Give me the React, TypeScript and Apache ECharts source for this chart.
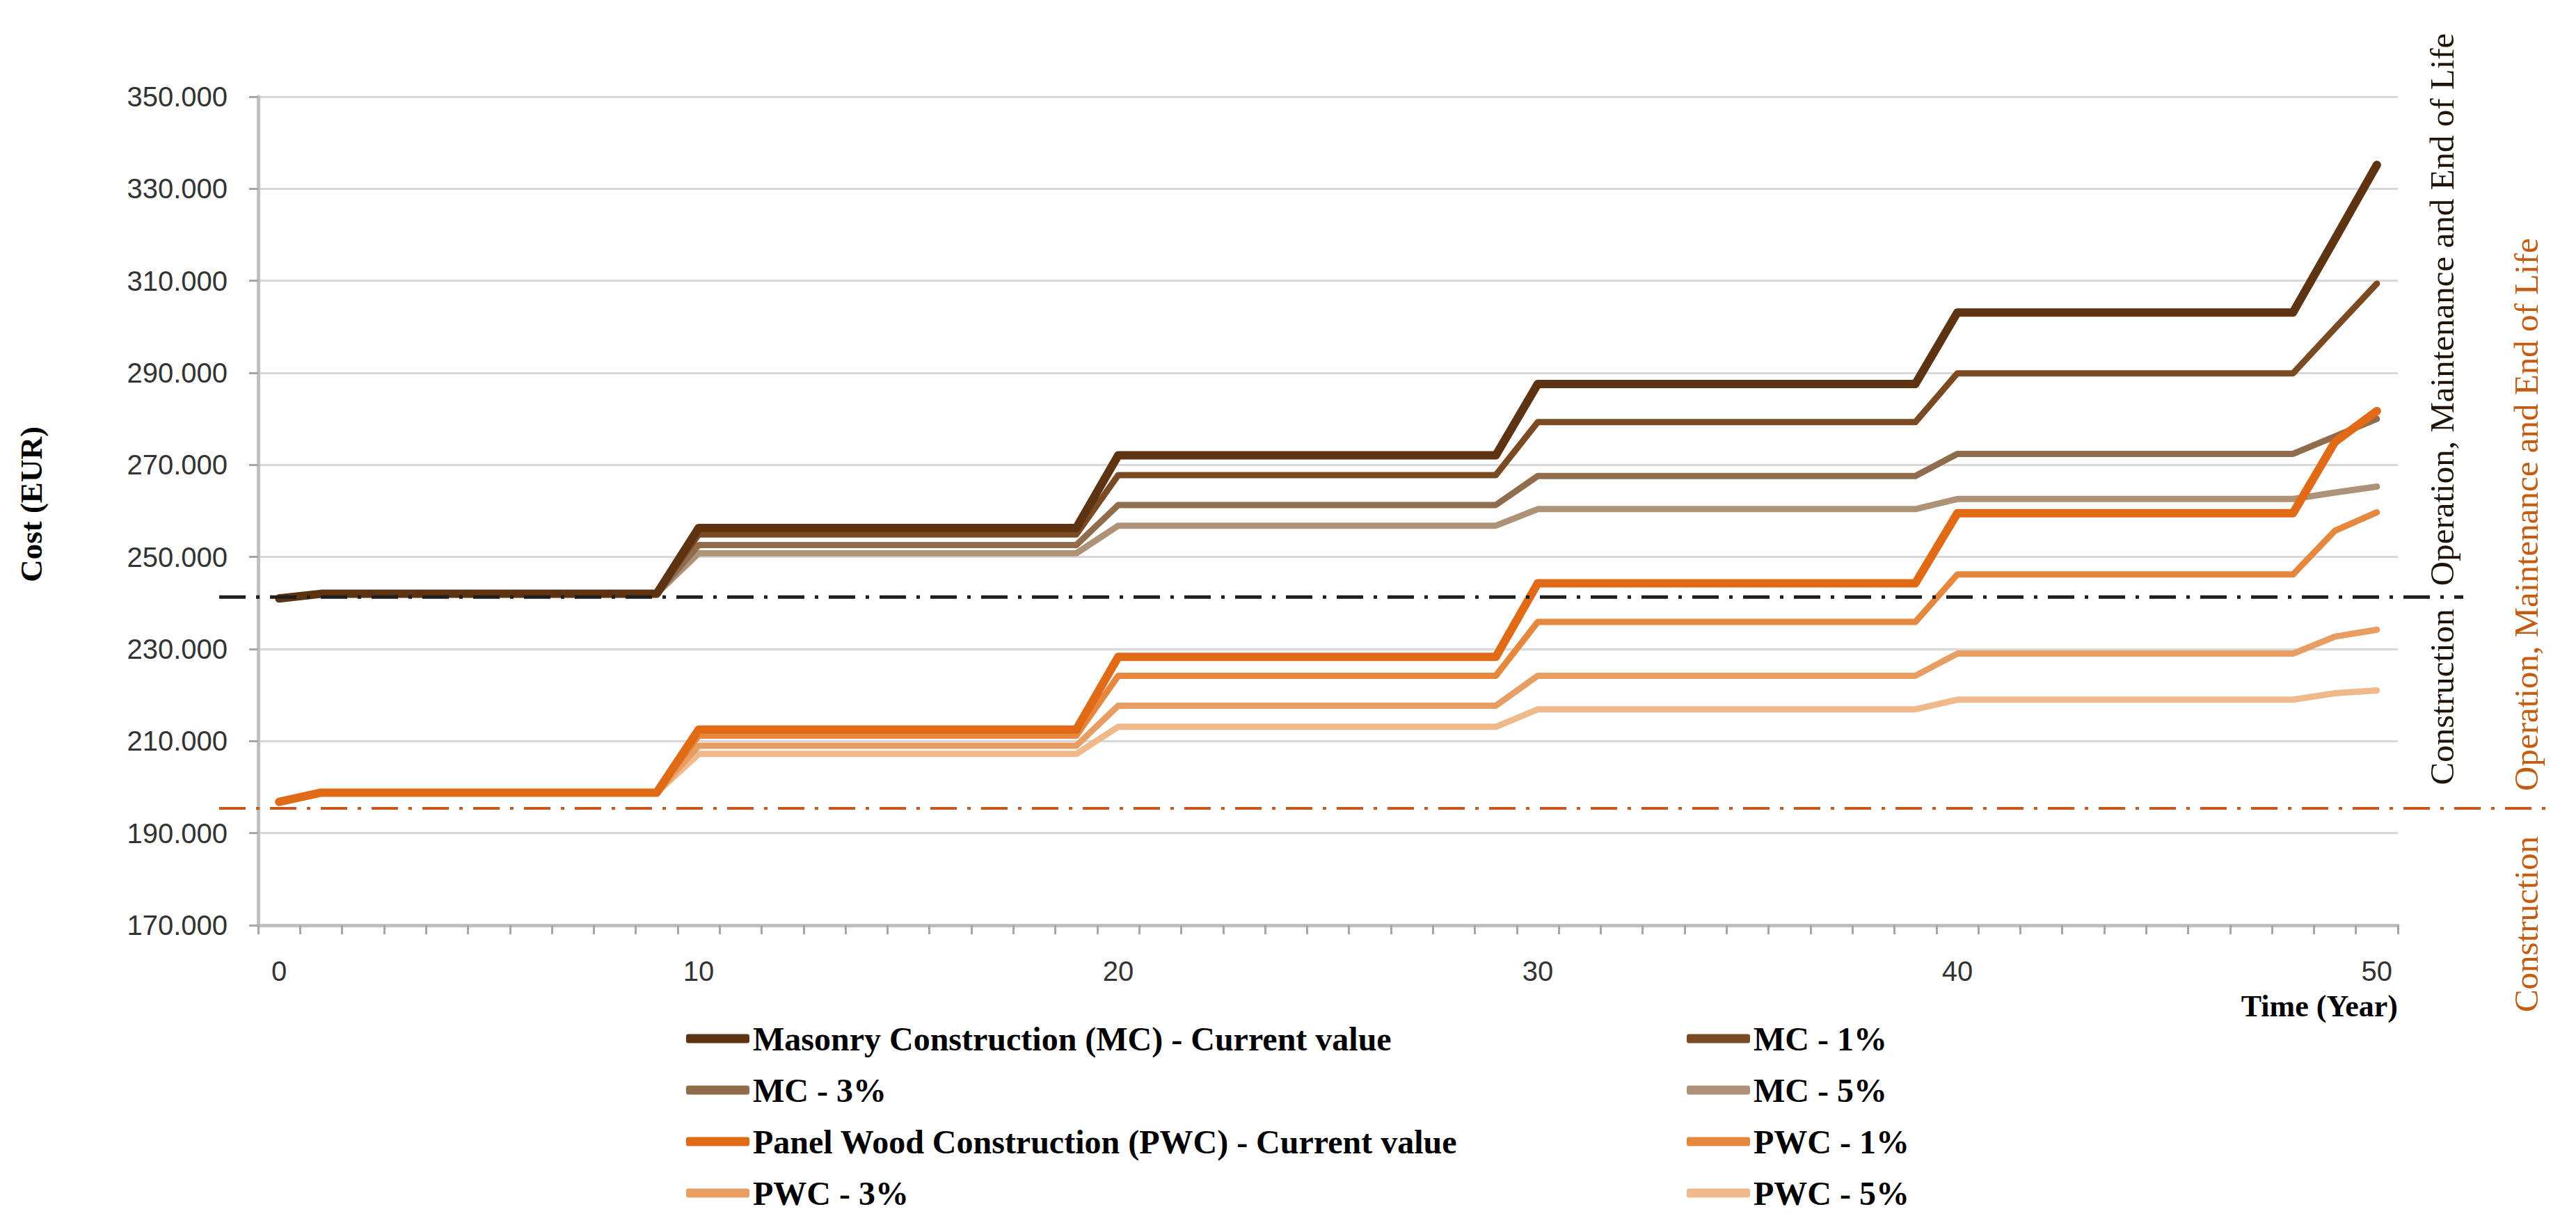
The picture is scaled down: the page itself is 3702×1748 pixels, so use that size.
import React, { useEffect, useRef } from "react";
import * as echarts from "echarts";

// ---------- data ----------
const YEARS = [
  "0", "1", "2", "3", "4", "5", "6", "7", "8", "9",
  "10", "11", "12", "13", "14", "15", "16", "17", "18", "19",
  "20", "21", "22", "23", "24", "25", "26", "27", "28", "29",
  "30", "31", "32", "33", "34", "35", "36", "37", "38", "39",
  "40", "41", "42", "43", "44", "45", "46", "47", "48", "49",
  "50",
];

const MC_CURRENT = [
  241000,
  242000, 242000, 242000, 242000, 242000, 242000, 242000, 242000, 242000,
  256300, 256300, 256300, 256300, 256300, 256300, 256300, 256300, 256300, 256300,
  272100, 272100, 272100, 272100, 272100, 272100, 272100, 272100, 272100, 272100,
  287600, 287600, 287600, 287600, 287600, 287600, 287600, 287600, 287600, 287600,
  303100, 303100, 303100, 303100, 303100, 303100, 303100, 303100, 303100,
  319100, 335200,
];
const MC_1 = [
  241000,
  242000, 242000, 242000, 242000, 242000, 242000, 242000, 242000, 242000,
  254900, 254900, 254900, 254900, 254900, 254900, 254900, 254900, 254900, 254900,
  267800, 267800, 267800, 267800, 267800, 267800, 267800, 267800, 267800, 267800,
  279300, 279300, 279300, 279300, 279300, 279300, 279300, 279300, 279300, 279300,
  289900, 289900, 289900, 289900, 289900, 289900, 289900, 289900, 289900,
  299700, 309400,
];
const MC_3 = [
  241000,
  242000, 242000, 242000, 242000, 242000, 242000, 242000, 242000, 242000,
  252600, 252600, 252600, 252600, 252600, 252600, 252600, 252600, 252600, 252600,
  261300, 261300, 261300, 261300, 261300, 261300, 261300, 261300, 261300, 261300,
  267600, 267600, 267600, 267600, 267600, 267600, 267600, 267600, 267600, 267600,
  272400, 272400, 272400, 272400, 272400, 272400, 272400, 272400, 272400,
  276200, 280000,
];
const MC_5 = [
  241000,
  242000, 242000, 242000, 242000, 242000, 242000, 242000, 242000, 242000,
  250800, 250800, 250800, 250800, 250800, 250800, 250800, 250800, 250800, 250800,
  256800, 256800, 256800, 256800, 256800, 256800, 256800, 256800, 256800, 256800,
  260400, 260400, 260400, 260400, 260400, 260400, 260400, 260400, 260400, 260400,
  262600, 262600, 262600, 262600, 262600, 262600, 262600, 262600, 262600,
  264000, 265300,
];
const PWC_CURRENT = [
  196800,
  198800, 198800, 198800, 198800, 198800, 198800, 198800, 198800, 198800,
  212500, 212500, 212500, 212500, 212500, 212500, 212500, 212500, 212500, 212500,
  228300, 228300, 228300, 228300, 228300, 228300, 228300, 228300, 228300, 228300,
  244300, 244300, 244300, 244300, 244300, 244300, 244300, 244300, 244300, 244300,
  259500, 259500, 259500, 259500, 259500, 259500, 259500, 259500, 259500,
  275000, 281700,
];
const PWC_1 = [
  196800,
  198800, 198800, 198800, 198800, 198800, 198800, 198800, 198800, 198800,
  211200, 211200, 211200, 211200, 211200, 211200, 211200, 211200, 211200, 211200,
  224200, 224200, 224200, 224200, 224200, 224200, 224200, 224200, 224200, 224200,
  235900, 235900, 235900, 235900, 235900, 235900, 235900, 235900, 235900, 235900,
  246200, 246200, 246200, 246200, 246200, 246200, 246200, 246200, 246200,
  255700, 259700,
];
const PWC_3 = [
  196800,
  198800, 198800, 198800, 198800, 198800, 198800, 198800, 198800, 198800,
  209000, 209000, 209000, 209000, 209000, 209000, 209000, 209000, 209000, 209000,
  217700, 217700, 217700, 217700, 217700, 217700, 217700, 217700, 217700, 217700,
  224200, 224200, 224200, 224200, 224200, 224200, 224200, 224200, 224200, 224200,
  229000, 229000, 229000, 229000, 229000, 229000, 229000, 229000, 229000,
  232700, 234200,
];
const PWC_5 = [
  196800,
  198800, 198800, 198800, 198800, 198800, 198800, 198800, 198800, 198800,
  207200, 207200, 207200, 207200, 207200, 207200, 207200, 207200, 207200, 207200,
  213100, 213100, 213100, 213100, 213100, 213100, 213100, 213100, 213100, 213100,
  216900, 216900, 216900, 216900, 216900, 216900, 216900, 216900, 216900, 216900,
  219000, 219000, 219000, 219000, 219000, 219000, 219000, 219000, 219000,
  220400, 221000,
];

const SERIES_NAMES = [
  "Masonry Construction (MC) - Current value",
  "MC - 1%",
  "MC - 3%",
  "MC - 5%",
  "Panel Wood Construction (PWC) - Current value",
  "PWC - 1%",
  "PWC - 3%",
  "PWC - 5%",
];
const SERIES_DATA = [MC_CURRENT, MC_1, MC_3, MC_5, PWC_CURRENT, PWC_1, PWC_3, PWC_5];
const SERIES_COLORS = [
  "#5E3311", "#7A4A22", "#8E6C4C", "#AD9277",
  "#E06A16", "#E5873D", "#E89E63", "#EFB98C",
];
const SERIES_WIDTHS = [12, 9, 9, 9, 12, 9, 9, 9];
// drawing order: "current value" lines on top within each group, PWC above MC
const SERIES_Z = [14, 13, 12, 11, 24, 23, 22, 21];

const LEGEND_LEFT_COLUMN = [SERIES_NAMES[0], SERIES_NAMES[2], SERIES_NAMES[4], SERIES_NAMES[6]];
const LEGEND_RIGHT_COLUMN = [SERIES_NAMES[1], SERIES_NAMES[3], SERIES_NAMES[5], SERIES_NAMES[7]];

// y axis: 170.000 .. 350.000, step 20.000
const Y_MIN = 170000;
const Y_MAX = 350000;
const Y_STEP = 20000;

// reference (construction cost) lines
const MC_CONSTRUCTION = 241300;
const PWC_CONSTRUCTION = 195400;

const Y_TITLE = "Cost (EUR)";
const X_TITLE = "Time (Year)";
const PHASE_BEFORE = "Construction";
const PHASE_AFTER = "Operation, Maintenance and End of Life";

const SERIF = '"Liberation Serif", "Times New Roman", serif';
const SANS = '"Liberation Sans", Arial, sans-serif';

function formatCost(offsetValue: number): string {
  const v = offsetValue + Y_MIN;
  return `${Math.round(v / 1000)}.000`;
}

export default function App() {
  const ref = useRef<HTMLDivElement>(null);

  useEffect(() => {
    if (!ref.current) return;
    const chart = echarts.init(ref.current, undefined, { renderer: "svg" });

    const legendText = {
      fontFamily: SERIF,
      fontWeight: "bold" as const,
      fontSize: 48,
      color: "#000000",
      lineHeight: 50,
    };

    const option: any = {
      animation: false,
      backgroundColor: "#ffffff",
      grid: { left: 371, top: 139, right: 256, bottom: 418, containLabel: false },
      xAxis: {
        type: "category",
        data: YEARS,
        boundaryGap: true,
        axisLine: { show: true, lineStyle: { color: "#BFBFBF", width: 5 } },
        axisTick: {
          show: true,
          interval: 0,
          length: 13,
          lineStyle: { color: "#A6A6A6", width: 3 },
        },
        axisLabel: {
          interval: (index: number) => index % 10 === 0,
          margin: 46,
          fontFamily: SANS,
          fontSize: 40,
          color: "#333333",
        },
        splitLine: { show: false },
      },
      yAxis: {
        type: "value",
        min: 0,
        max: Y_MAX - Y_MIN,
        interval: Y_STEP,
        axisLine: { show: true, lineStyle: { color: "#BFBFBF", width: 5 } },
        axisTick: { show: true, length: 13, lineStyle: { color: "#A6A6A6", width: 3 } },
        axisLabel: {
          margin: 44,
          formatter: formatCost,
          fontFamily: SANS,
          fontSize: 40,
          color: "#333333",
        },
        splitLine: { show: true, lineStyle: { color: "#D9D9D9", width: 3 } },
      },
      legend: [
        {
          orient: "vertical",
          left: 981,
          top: 1463,
          itemWidth: 91,
          itemHeight: 13,
          itemGap: 24,
          icon: "roundRect",
          selectedMode: false,
          data: LEGEND_LEFT_COLUMN,
          textStyle: legendText,
        },
        {
          orient: "vertical",
          left: 2419,
          top: 1463,
          itemWidth: 91,
          itemHeight: 13,
          itemGap: 24,
          icon: "roundRect",
          selectedMode: false,
          data: LEGEND_RIGHT_COLUMN,
          textStyle: legendText,
        },
      ],
      series: SERIES_NAMES.map((name, i) => ({
        name,
        type: "line",
        data: SERIES_DATA[i].map((v) => v - Y_MIN),
        showSymbol: false,
        symbol: "none",
        smooth: false,
        color: SERIES_COLORS[i],
        itemStyle: { color: SERIES_COLORS[i] },
        lineStyle: {
          color: SERIES_COLORS[i],
          width: SERIES_WIDTHS[i],
          cap: "round",
          join: "round",
        },
        emphasis: { disabled: true },
        z: SERIES_Z[i],
      })),
    };

    chart.setOption(option);

    const yB = chart.convertToPixel({ yAxisIndex: 0 }, MC_CONSTRUCTION - Y_MIN) as unknown as number;
    const yO = chart.convertToPixel({ yAxisIndex: 0 }, PWC_CONSTRUCTION - Y_MIN) as unknown as number;

    const vText = (
      text: string,
      x: number,
      y: number,
      align: "left" | "right" | "center",
      color: string,
      size: number,
      bold: boolean
    ) => ({
      type: "text",
      x,
      y,
      rotation: Math.PI / 2,
      z: 100,
      style: {
        text,
        fill: color,
        fontFamily: SERIF,
        fontSize: size,
        fontWeight: bold ? "bold" : "normal",
        align,
        textAlign: align,
        verticalAlign: "middle",
        textVerticalAlign: "middle",
      },
    });

    chart.setOption({
      graphic: [
        {
          type: "line",
          z: 50,
          shape: { x1: 315, y1: yB, x2: 3540, y2: yB },
          style: { stroke: "#1E1E1E", lineWidth: 5, lineDash: [38, 15, 5, 15] },
        },
        {
          type: "line",
          z: 50,
          shape: { x1: 315, y1: yO, x2: 3671, y2: yO },
          style: { stroke: "#C65A22", lineWidth: 4, lineDash: [38, 15, 5, 15] },
        },
        vText(PHASE_BEFORE, 3509, yB + 17, "right", "#201408", 49, false),
        vText(PHASE_AFTER, 3509, yB - 16, "left", "#201408", 49, false),
        vText(PHASE_AFTER, 3630, yO - 25, "left", "#C55A11", 49, false),
        vText(PHASE_BEFORE, 3630, yO + 40, "right", "#C55A11", 49, false),
        vText(Y_TITLE, 45, 725, "center", "#000000", 45, true),
        {
          type: "text",
          x: 3446,
          y: 1446,
          z: 100,
          style: {
            text: X_TITLE,
            fill: "#000000",
            fontFamily: SERIF,
            fontSize: 44,
            fontWeight: "bold",
            align: "right",
            textAlign: "right",
            verticalAlign: "middle",
            textVerticalAlign: "middle",
          },
        },
      ],
    });

    return () => {
      chart.dispose();
    };
  }, []);

  return (
    <div
      ref={ref}
      style={{
        position: "fixed",
        left: 0,
        top: 0,
        width: "3702px",
        height: "1748px",
        background: "#ffffff",
      }}
    />
  );
}
